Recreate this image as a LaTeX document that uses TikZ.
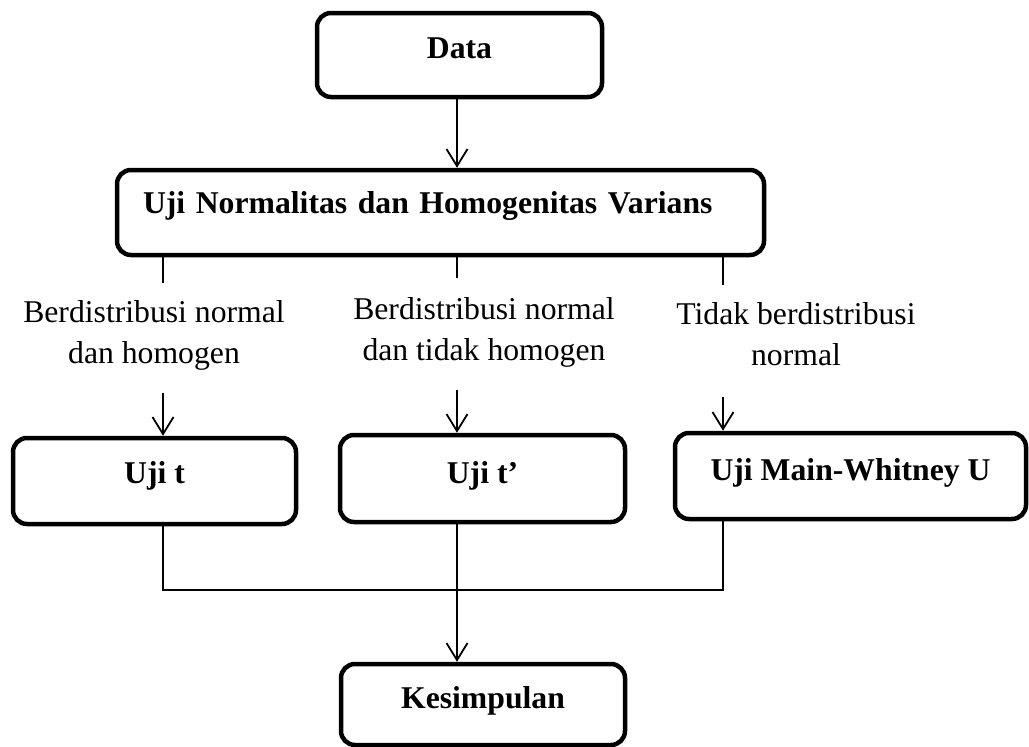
\documentclass[tikz,border=0pt]{standalone}
\usepackage{fontspec}
\setmainfont{Liberation Serif}
\usetikzlibrary{arrows.meta}
\begin{document}
\begin{tikzpicture}[x=1pt,y=-1pt,
  box/.style={draw, line width=4.5pt, rounded corners=14pt, inner sep=0pt,
    font=\fontsize{31.7}{41}\selectfont\bfseries},
  lab/.style={align=center, inner sep=0pt, anchor=base,
    font=\fontsize{31.7}{41}\selectfont},
  conn/.style={line width=1.8pt},
  arr/.style={conn, -{Straight Barb[length=17pt,width=21pt,line width=1.8pt]}}]
\useasboundingbox (0,0) rectangle (1029,747);

% boxes
\node[box, minimum width=285pt, text height=45pt, text depth=39pt] (data) at (459.5,55) {Data};
\node[box, text width=595pt, inner xsep=26pt, align=left, text height=43pt, text depth=42pt] (norm) at (440.5,212.5) {Uji Normalitas dan Homogenitas Varians};
\node[box, minimum width=283pt, text height=45pt, text depth=41pt] (ujit) at (154.5,481) {Uji t};
\node[box, minimum width=285pt, text height=48pt, text depth=39pt] (ujitp) at (482.5,478.5) {Uji t’};
\node[box, minimum width=351pt, text height=47pt, text depth=39pt] (mw) at (850.5,476) {Uji Main-Whitney U};
\node[box, minimum width=284pt, text height=44pt, text depth=37pt] (kes) at (483,704.5) {Kesimpulan};

% labels (base = baseline of the last line)
\node[lab] (l1) at (154,363) {Berdistribusi normal\\dan homogen};
\node[lab] (l2) at (484,360) {Berdistribusi normal\\dan tidak homogen};
\node[lab] (l3) at (796,365) {Tidak berdistribusi\\normal};

% connector helper coordinates
\coordinate (c1) at (163,0);
\coordinate (c2) at (457,0);
\coordinate (c3) at (723,0);
\coordinate (e1) at (163,283);
\coordinate (e2) at (457,278);
\coordinate (e3) at (723,285);
\coordinate (s1) at (163,393);
\coordinate (s2) at (457,390);
\coordinate (s3) at (723,397);
\coordinate (j) at (0,590);

% connectors
\draw[arr] (data.south -| c2) -- (norm.north -| c2);
\draw[conn] (norm.south -| c1) -- (e1);
\draw[conn] (norm.south -| c2) -- (e2);
\draw[conn] (norm.south -| c3) -- (e3);
\draw[arr] (s1) -- (ujit.north -| s1);
\draw[arr] (s2) -- (ujitp.north -| s2);
\draw[arr] (s3) -- (mw.north -| s3);
\draw[conn] (ujit.south -| c1) -- (c1 |- j) -- (c3 |- j) -- (mw.south -| c3);
\draw[arr] (ujitp.south -| c2) -- (kes.north -| c2);
\end{tikzpicture}
\end{document}
